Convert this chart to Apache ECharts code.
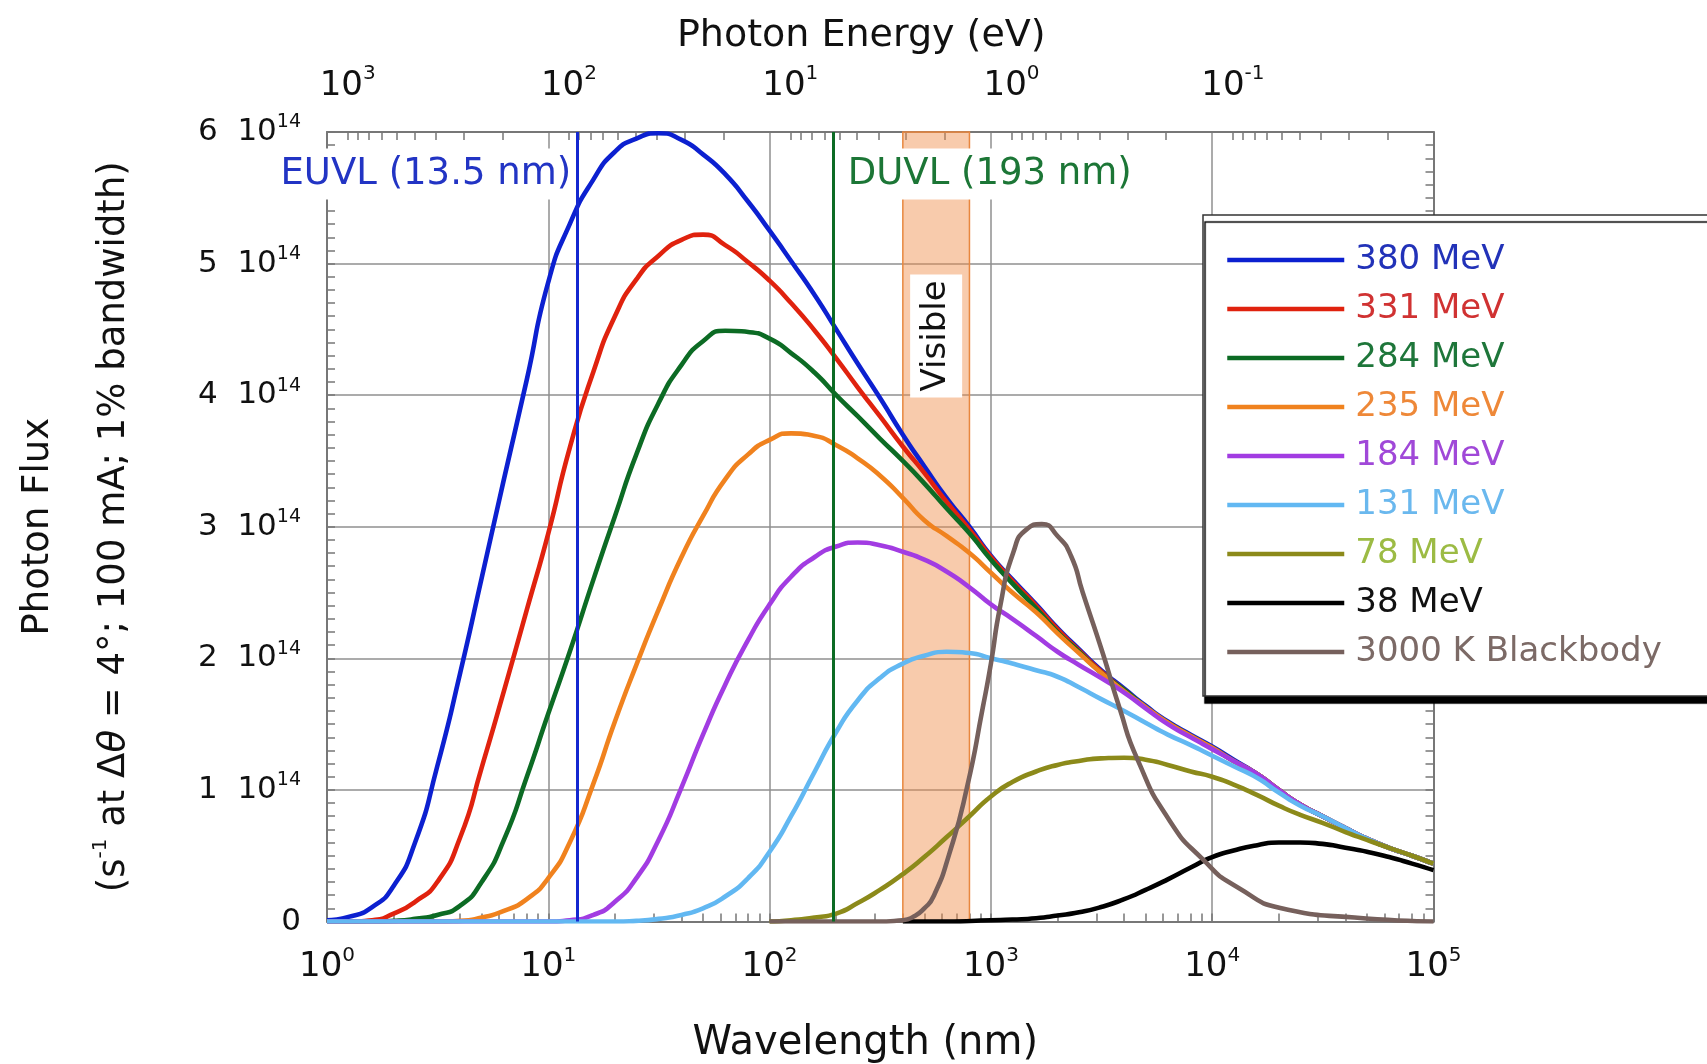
<!DOCTYPE html>
<html>
<head>
<meta charset="utf-8">
<title>Photon Flux</title>
<script src="https://cdn.jsdelivr.net/npm/echarts@6/dist/echarts.min.js"></script>
<style>
  html, body { margin: 0; padding: 0; background: #fff; }
  #chart { width: 1707px; height: 1064px; }
</style>
</head>
<body>
<div id="chart"></div>
<script>
// wavelength grid (nm) shared by the synchrotron curves
const wl = [1, 1.25, 1.6, 2, 2.5, 3.15, 4, 5, 6.3, 8, 10, 12.5, 16, 20, 25, 31.5, 40, 50, 63, 80,
  100, 125, 160, 200, 250, 315, 400, 500, 630, 800, 1000, 1250, 1600, 2000, 2500, 3150, 4000, 5000, 6300, 8000,
  10000, 12500, 16000, 20000, 25000, 31500, 40000, 50000, 63000, 80000, 100000]

// photon flux in units of 10^14
const mev380 = [0.01, 0.035, 0.11, 0.27, 0.6, 1.18, 1.89, 2.61, 3.36, 4.12, 4.86, 5.3, 5.64, 5.85, 5.95, 5.99, 5.94, 5.83, 5.68, 5.47,
  5.25, 5.02, 4.76, 4.5, 4.24, 3.98, 3.7, 3.46, 3.22, 3.0, 2.78, 2.6, 2.41, 2.23, 2.07, 1.91, 1.77, 1.64, 1.52, 1.42,
  1.33, 1.23, 1.12, 1.0, 0.89, 0.8, 0.71, 0.63, 0.56, 0.5, 0.44]
const mev331 = [0, 0, 0.01, 0.06, 0.15, 0.3, 0.64, 1.17, 1.75, 2.37, 2.95, 3.6, 4.18, 4.6, 4.88, 5.06, 5.18, 5.22, 5.14, 5.01,
  4.87, 4.7, 4.49, 4.28, 4.06, 3.84, 3.61, 3.41, 3.19, 2.98, 2.77, 2.59, 2.4, 2.22, 2.06, 1.9, 1.76, 1.63, 1.51, 1.41,
  1.32, 1.22, 1.12, 1.0, 0.89, 0.8, 0.71, 0.63, 0.56, 0.5, 0.44]
const mev284 = [0, 0, 0, 0.005, 0.02, 0.05, 0.12, 0.3, 0.62, 1.1, 1.58, 2.05, 2.6, 3.08, 3.55, 3.94, 4.23, 4.41, 4.49, 4.48,
  4.43, 4.32, 4.17, 4.0, 3.84, 3.67, 3.5, 3.33, 3.14, 2.95, 2.75, 2.57, 2.38, 2.2, 2.05, 1.89, 1.76, 1.63, 1.51, 1.41,
  1.32, 1.22, 1.12, 1.0, 0.89, 0.8, 0.71, 0.63, 0.56, 0.5, 0.44]
const mev235 = [0, 0, 0, 0, 0, 0, 0.005, 0.03, 0.08, 0.17, 0.33, 0.6, 1.05, 1.52, 1.95, 2.37, 2.77, 3.08, 3.36, 3.55,
  3.66, 3.71, 3.69, 3.62, 3.52, 3.39, 3.22, 3.05, 2.93, 2.8, 2.65, 2.5, 2.35, 2.19, 2.04, 1.89, 1.75, 1.63, 1.51, 1.41,
  1.32, 1.22, 1.12, 1.0, 0.89, 0.8, 0.71, 0.63, 0.56, 0.5, 0.44]
const mev184 = [0, 0, 0, 0, 0, 0, 0, 0, 0, 0, 0, 0.01, 0.05, 0.15, 0.33, 0.62, 1.02, 1.42, 1.8, 2.14,
  2.41, 2.62, 2.77, 2.85, 2.88, 2.86, 2.81, 2.75, 2.66, 2.54, 2.41, 2.3, 2.17, 2.05, 1.95, 1.85, 1.74, 1.62, 1.5, 1.4,
  1.31, 1.22, 1.12, 1.0, 0.89, 0.8, 0.71, 0.63, 0.56, 0.5, 0.44]
const mev131 = [0, 0, 0, 0, 0, 0, 0, 0, 0, 0, 0, 0, 0, 0, 0.005, 0.02, 0.05, 0.1, 0.19, 0.33,
  0.53, 0.8, 1.14, 1.44, 1.68, 1.85, 1.96, 2.02, 2.05, 2.04, 2.0, 1.96, 1.91, 1.86, 1.78, 1.69, 1.6, 1.51, 1.42, 1.34,
  1.26, 1.18, 1.09, 0.98, 0.88, 0.8, 0.71, 0.63, 0.56, 0.5, 0.44]

const wl78 = [100, 125, 160, 200, 250, 315, 400, 500, 630, 800, 1000, 1250, 1600, 2000, 2500, 3150, 4000, 5000, 6300, 8000,
  10000, 12500, 16000, 20000, 25000, 31500, 40000, 50000, 63000, 80000, 100000]
const mev78 = [0, 0.01, 0.03, 0.06, 0.14, 0.24, 0.36, 0.49, 0.64, 0.8, 0.95, 1.06, 1.14, 1.19, 1.22, 1.24, 1.245, 1.23, 1.19, 1.14,
  1.1, 1.04, 0.96, 0.88, 0.81, 0.75, 0.68, 0.62, 0.56, 0.5, 0.44]

const wl38 = [400, 630, 1000, 1250, 1600, 2000, 2500, 3150, 4000, 5000, 6300, 8000, 10000, 12500, 16000, 20000, 25000,
  31500, 40000, 50000, 63000, 80000, 100000]
const mev38 = [0, 0, 0.01, 0.015, 0.025, 0.045, 0.07, 0.11, 0.17, 0.24, 0.32, 0.41, 0.49, 0.54, 0.58, 0.6, 0.6,
  0.59, 0.56, 0.53, 0.49, 0.44, 0.39]

const wlBB = [100, 300, 400, 450, 500, 550, 650, 780, 920, 1000, 1100, 1260, 1450, 1700, 2000, 2300, 2600,
  3200, 3800, 4600, 6400, 9100, 13000, 22000, 44000, 100000]
const bb3000 = [0, 0, 0.01, 0.04, 0.1, 0.19, 0.52, 1.02, 1.63, 1.96, 2.39, 2.8, 2.98, 3.02, 2.93, 2.78, 2.5,
  2.04, 1.63, 1.23, 0.77, 0.47, 0.26, 0.09, 0.03, 0]

// axis ticks
const wlTicks = [1, 10, 100, 1000, 10000, 100000]
const energyTicks = [1000, 100, 10, 1, 0.1]
const fluxTicks = [0, 1, 2, 3, 4, 5, 6]

// annotations
const euvl = 13.5
const duvl = 193
const visibleBand = [400, 800]

const EV_NM = 1239.84
const FONT = 'DejaVu Sans'
const FRAME = '#777'
const GRID = '#8f8f8f'

const chart = echarts.init(document.getElementById('chart'))

function pairs(xs, ys) {
  return xs.map((x, i) => [x, ys[i]])
}

// log minor ticks 1..9 x 10^k inside [lo, hi]
function logMinor(lo, hi) {
  const out = []
  for (let k = -3; k <= 5; k++) {
    for (let m = 1; m <= 9; m++) {
      const v = m * Math.pow(10, k)
      if (v >= lo * 0.999 && v <= hi * 1.001) out.push(v)
    }
  }
  return out
}

const fluxMinor = []
for (let i = 0; i <= 60; i++) fluxMinor.push(i / 10)

const curves = [
  { name: '380 MeV', x: wl, y: mev380, color: '#0c20d0', text: '#2232b8' },
  { name: '331 MeV', x: wl, y: mev331, color: '#e0220e', text: '#d03232' },
  { name: '284 MeV', x: wl, y: mev284, color: '#0c6b24', text: '#1e763a' },
  { name: '235 MeV', x: wl, y: mev235, color: '#f0821e', text: '#ee8838' },
  { name: '184 MeV', x: wl, y: mev184, color: '#a23ce2', text: '#a048d8' },
  { name: '131 MeV', x: wl, y: mev131, color: '#62b8f2', text: '#6ab8ee' },
  { name: '78 MeV', x: wl78, y: mev78, color: '#8c8a1a', text: '#9cbb44' },
  { name: '38 MeV', x: wl38, y: mev38, color: '#000000', text: '#111111' },
  { name: '3000 K Blackbody', x: wlBB, y: bb3000, color: '#76605c', text: '#7c6a66' }
]

const powRich = {
  b: { fontFamily: FONT, fontSize: 34, lineHeight: 44, color: '#111' },
  s: { fontFamily: FONT, fontSize: 20, lineHeight: 30, color: '#111', verticalAlign: 'top' }
}

function powLabel(v) {
  const e = Math.round(Math.log10(v))
  return '{b|10}{s|' + e + '}'
}

const lineSeries = curves.map(c => ({
  name: c.name,
  type: 'line',
  xAxisIndex: 0,
  yAxisIndex: 0,
  data: pairs(c.x, c.y),
  smooth: 0.6,
  symbol: 'none',
  showSymbol: false,
  clip: true,
  lineStyle: { color: c.color, width: 4.6 },
  itemStyle: { color: c.color },
  z: 3
}))

const noteFont = { fontFamily: FONT, fontSize: 37, backgroundColor: '#fff', opacity: 1 }
const HIDDEN = 'rgba(0,0,0,0)'

const annotations = {
  name: 'notes',
  type: 'scatter',
  xAxisIndex: 0,
  yAxisIndex: 0,
  silent: true,
  symbolSize: 2,
  itemStyle: { color: HIDDEN, opacity: 1 },
  z: 4,
  data: [
    {
      value: [euvl, 5.68],
      label: {
        show: true, position: 'left', distance: 3, formatter: 'EUVL (13.5 nm)',
        color: '#2234c4', padding: [7, 2, 7, 6], ...noteFont
      }
    },
    {
      value: [duvl, 5.68],
      label: {
        show: true, position: 'right', distance: 4, formatter: 'DUVL (193 nm)',
        color: '#1c7636', padding: [7, 4, 7, 10], ...noteFont
      }
    },
    {
      value: [Math.sqrt(visibleBand[0] * visibleBand[1]), 4.45],
      label: {
        show: true, position: 'inside', rotate: 90, formatter: 'Visible', opacity: 1,
        color: '#111', fontFamily: FONT, fontSize: 34, backgroundColor: '#fff', padding: [9, 6]
      }
    }
  ],
  markLine: {
    silent: true,
    symbol: ['none', 'none'],
    label: { show: false },
    lineStyle: { type: 'solid', width: 3 },
    data: [
      { xAxis: euvl, lineStyle: { color: '#1428d0', type: 'solid', width: 3 } },
      { xAxis: duvl, lineStyle: { color: '#0c6b24', type: 'solid', width: 3 } }
    ]
  },
  markArea: {
    silent: true,
    itemStyle: { color: 'rgba(240,140,70,0.45)', borderColor: '#e8873f', borderWidth: 1.5 },
    data: [[{ xAxis: visibleBand[0] }, { xAxis: visibleBand[1] }]]
  }
}

// bare axis carrying only small inside ticks
function tickOnlyAxis(extra, values) {
  return Object.assign({
    axisLine: { show: false, onZero: false },
    axisTick: { show: true, inside: true, length: 8, customValues: values, lineStyle: { color: FRAME, width: 1.5 } },
    axisLabel: { show: false },
    splitLine: { show: false }
  }, extra)
}

const option = {
  animation: false,
  backgroundColor: '#fff',
  grid: { left: 327, right: 273.5, top: 132, bottom: 142.5, containLabel: false, outerBoundsMode: 'none' },
  legend: {
    orient: 'vertical',
    left: 1203,
    top: 215,
    selectedMode: false,
    backgroundColor: '#fff',
    borderColor: '#333',
    borderWidth: 1.5,
    borderRadius: 0,
    padding: [25, 80, 24, 22],
    itemWidth: 117,
    itemHeight: 28,
    itemGap: 9,
    itemStyle: { opacity: 0 },
    lineStyle: { width: 4.5 },
    shadowColor: '#000',
    shadowBlur: 1,
    shadowOffsetX: 2,
    shadowOffsetY: 7,
    textStyle: { fontFamily: FONT, fontSize: 34, lineHeight: 40, padding: [0, 0, 0, 6] },
    data: curves.map(c => ({ name: c.name, textStyle: { color: c.text } }))
  },
  xAxis: [
    {
      type: 'log',
      logBase: 10,
      min: wlTicks[0],
      max: wlTicks[wlTicks.length - 1],
      position: 'bottom',
      axisLine: { show: true, onZero: false, lineStyle: { color: FRAME, width: 2 } },
      axisTick: { show: false },
      axisLabel: { margin: 24, formatter: powLabel, rich: powRich },
      splitLine: { show: true, lineStyle: { color: GRID, width: 1.5 } },
      name: 'Wavelength (nm)',
      nameLocation: 'middle',
      nameGap: 100,
      nameTextStyle: { fontFamily: FONT, fontSize: 40, lineHeight: 44, color: '#111', padding: [0, 30, 0, 0] }
    },
    {
      type: 'log',
      logBase: 10,
      min: EV_NM / 1e5,
      max: EV_NM,
      inverse: true,
      position: 'top',
      axisLine: { show: true, onZero: false, lineStyle: { color: FRAME, width: 2 } },
      axisTick: { show: true, inside: true, length: 8, customValues: logMinor(EV_NM / 1e5, EV_NM), lineStyle: { color: FRAME, width: 1.5 } },
      axisLabel: { customValues: energyTicks, margin: 24, formatter: powLabel, rich: powRich },
      splitLine: { show: false },
      name: 'Photon Energy (eV)',
      nameLocation: 'middle',
      nameGap: 74,
      nameTextStyle: { fontFamily: FONT, fontSize: 38, lineHeight: 44, color: '#111', padding: [0, 38, 0, 0] }
    },
    tickOnlyAxis({ type: 'log', logBase: 10, min: 1, max: 1e5, position: 'bottom' }, logMinor(1, 1e5))
  ],
  yAxis: [
    {
      type: 'value',
      min: fluxTicks[0],
      max: fluxTicks[fluxTicks.length - 1],
      interval: 1,
      position: 'left',
      axisLine: { show: true, onZero: false, lineStyle: { color: FRAME, width: 2 } },
      axisTick: { show: false },
      axisLabel: {
        margin: 26,
        formatter: v => (v === 0 ? '{b|0}' : '{b|' + v + '  10}{s|14}'),
        rich: {
          b: { fontFamily: FONT, fontSize: 31, lineHeight: 38, color: '#111' },
          s: { fontFamily: FONT, fontSize: 19, lineHeight: 24, color: '#111', verticalAlign: 'top' }
        }
      },
      splitLine: { show: true, lineStyle: { color: GRID, width: 1.5 } },
      name: '{t|Photon Flux}\n{t|(s}{sp|-1}{t| at Δ}{it|θ}{t| = 4°; 100 mA; 1% bandwidth)}',
      nameLocation: 'middle',
      nameRotate: 90,
      nameGap: 175,
      nameTextStyle: {
        rich: {
          t: { fontFamily: FONT, fontSize: 37, lineHeight: 76, color: '#111' },
          it: { fontFamily: FONT, fontSize: 37, lineHeight: 76, color: '#111', fontStyle: 'italic' },
          sp: { fontFamily: FONT, fontSize: 20, lineHeight: 20, color: '#111', padding: [0, 0, 26, 0] }
        }
      }
    },
    {
      type: 'value',
      min: fluxTicks[0],
      max: fluxTicks[fluxTicks.length - 1],
      interval: 1,
      position: 'right',
      axisLine: { show: true, onZero: false, lineStyle: { color: FRAME, width: 2 } },
      axisTick: { show: true, inside: true, length: 8, customValues: fluxMinor, lineStyle: { color: FRAME, width: 1.5 } },
      axisLabel: { show: false },
      splitLine: { show: false }
    },
    tickOnlyAxis({ type: 'value', min: 0, max: 6, position: 'left' }, fluxMinor)
  ],
  series: lineSeries.concat([annotations])
}

chart.setOption(option)
</script>
</body>
</html>
